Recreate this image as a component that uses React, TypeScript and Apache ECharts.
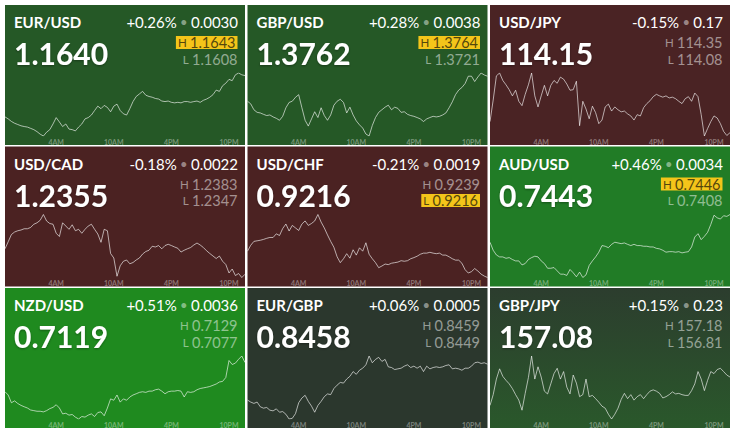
import React, { useEffect, useRef } from "react";
import * as echarts from "echarts";

// ---------- data ----------
const pairs = ["EUR/USD", "GBP/USD", "USD/JPY", "USD/CAD", "USD/CHF", "AUD/USD", "NZD/USD", "EUR/GBP", "GBP/JPY"];
const lastPrices = ["1.1640", "1.3762", "114.15", "1.2355", "0.9216", "0.7443", "0.7119", "0.8458", "157.08"];
const changePct = ["+0.26%", "+0.28%", "-0.15%", "-0.18%", "-0.21%", "+0.46%", "+0.51%", "+0.06%", "+0.15%"];
const changeAbs = ["0.0030", "0.0038", "0.17", "0.0022", "0.0019", "0.0034", "0.0036", "0.0005", "0.23"];
const highs = ["1.1643", "1.3764", "114.35", "1.2383", "0.9239", "0.7446", "0.7129", "0.8459", "157.18"];
const lows = ["1.1608", "1.3721", "114.08", "1.2347", "0.9216", "0.7408", "0.7077", "0.8449", "156.81"];
const highlighted = ["H", "H", "", "", "L", "H", "", "", ""];

const tickTimes = ["04:00", "10:00", "16:00", "22:00"];
const tickLabels = ["4AM", "10AM", "4PM", "10PM"];

const eurUsd = [1.16189,1.16178,1.16164,1.16154,1.16147,1.16140,1.16136,1.16133,1.16126,1.16119,
1.16108,1.16094,1.16084,1.16105,1.16119,1.16150,1.16185,1.16161,1.16136,1.16150,
1.16122,1.16119,1.16112,1.16133,1.16150,1.16178,1.16185,1.16199,1.16224,1.16248,
1.16234,1.16252,1.16241,1.16217,1.16248,1.16259,1.16224,1.16206,1.16199,1.16234,
1.16273,1.16301,1.16315,1.16329,1.16308,1.16301,1.16297,1.16290,1.16287,1.16276,
1.16273,1.16276,1.16269,1.16266,1.16269,1.16266,1.16273,1.16273,1.16269,1.16273,
1.16276,1.16269,1.16280,1.16287,1.16297,1.16311,1.16336,1.16329,1.16360,1.16374,
1.16395,1.16388,1.16420,1.16430,1.16420,1.16416];

const gbpUsd = [1.37455,1.37438,1.37399,1.37382,1.37378,1.37369,1.37361,1.37365,1.37352,1.37343,
1.37330,1.37356,1.37412,1.37447,1.37455,1.37481,1.37498,1.37412,1.37330,1.37292,
1.37339,1.37386,1.37348,1.37412,1.37361,1.37330,1.37365,1.37429,1.37455,1.37468,
1.37447,1.37378,1.37416,1.37365,1.37326,1.37300,1.37279,1.37240,1.37227,1.37296,
1.37348,1.37382,1.37399,1.37416,1.37429,1.37399,1.37416,1.37408,1.37382,1.37386,
1.37369,1.37361,1.37356,1.37348,1.37339,1.37322,1.37339,1.37348,1.37356,1.37352,
1.37356,1.37365,1.37378,1.37412,1.37451,1.37498,1.37528,1.37545,1.37571,1.37619,
1.37619,1.37584,1.37614,1.37640,1.37627,1.37619];

const usdJpy = [114.150,114.234,114.328,114.339,114.310,114.293,114.274,114.250,114.272,114.229,
114.212,114.256,114.293,114.339,114.250,114.207,114.250,114.291,114.250,114.291,
114.310,114.299,114.323,114.315,114.296,114.272,114.274,114.307,114.134,114.229,
114.199,114.161,114.210,114.185,114.142,114.156,114.207,114.218,114.191,114.207,
114.196,114.188,114.191,114.180,114.172,114.156,114.177,114.172,114.204,114.220,
114.231,114.247,114.256,114.250,114.245,114.250,114.242,114.245,114.239,114.229,
114.220,114.239,114.247,114.229,114.261,114.247,114.177,114.094,114.123,114.150,
114.172,114.164,114.142,114.112,114.096,114.107];

const usdCad = [1.23636,1.23675,1.23715,1.23729,1.23736,1.23740,1.23747,1.23747,1.23754,1.23772,
1.23780,1.23794,1.23826,1.23790,1.23776,1.23772,1.23722,1.23704,1.23780,1.23762,
1.23744,1.23769,1.23736,1.23744,1.23722,1.23744,1.23762,1.23772,1.23744,1.23718,
1.23672,1.23744,1.23736,1.23610,1.23585,1.23484,1.23542,1.23567,1.23574,1.23553,
1.23560,1.23574,1.23585,1.23607,1.23621,1.23628,1.23650,1.23646,1.23654,1.23636,
1.23654,1.23661,1.23654,1.23646,1.23639,1.23618,1.23628,1.23636,1.23643,1.23657,
1.23668,1.23657,1.23643,1.23625,1.23610,1.23596,1.23582,1.23596,1.23567,1.23549,
1.23502,1.23524,1.23488,1.23499,1.23477,1.23495];

const usdChf = [0.92254,0.92275,0.92289,0.92291,0.92293,0.92296,0.92300,0.92303,0.92303,0.92316,
0.92310,0.92335,0.92351,0.92326,0.92346,0.92337,0.92328,0.92351,0.92362,0.92346,
0.92353,0.92362,0.92385,0.92358,0.92337,0.92312,0.92289,0.92268,0.92234,0.92213,
0.92227,0.92245,0.92229,0.92259,0.92240,0.92266,0.92254,0.92284,0.92243,0.92227,
0.92213,0.92195,0.92201,0.92208,0.92206,0.92211,0.92213,0.92215,0.92220,0.92218,
0.92220,0.92227,0.92231,0.92236,0.92243,0.92247,0.92247,0.92250,0.92247,0.92245,
0.92247,0.92240,0.92240,0.92234,0.92227,0.92222,0.92222,0.92211,0.92188,0.92176,
0.92181,0.92192,0.92183,0.92172,0.92165,0.92160];

const audUsd = [0.74297,0.74251,0.74224,0.74213,0.74213,0.74205,0.74209,0.74198,0.74190,0.74190,
0.74167,0.74175,0.74198,0.74209,0.74217,0.74213,0.74190,0.74175,0.74148,0.74148,
0.74152,0.74133,0.74114,0.74114,0.74107,0.74141,0.74122,0.74099,0.74126,0.74095,
0.74110,0.74164,0.74190,0.74213,0.74240,0.74278,0.74274,0.74266,0.74285,0.74297,
0.74293,0.74289,0.74293,0.74285,0.74278,0.74285,0.74278,0.74278,0.74274,0.74274,
0.74270,0.74270,0.74262,0.74259,0.74251,0.74240,0.74243,0.74243,0.74240,0.74243,
0.74236,0.74240,0.74243,0.74270,0.74327,0.74346,0.74312,0.74331,0.74354,0.74399,
0.74452,0.74437,0.74430,0.74449,0.74445,0.74456];

const nzdUsd = [0.71004,0.70978,0.70916,0.70931,0.70910,0.70895,0.70884,0.70874,0.70858,0.70853,
0.70848,0.70848,0.70843,0.70853,0.70869,0.70879,0.70900,0.70874,0.70827,0.70832,
0.70817,0.70822,0.70801,0.70786,0.70806,0.70801,0.70817,0.70827,0.70806,0.70838,
0.70843,0.70812,0.70874,0.70947,0.70936,0.70978,0.70921,0.70947,0.70936,0.70962,
0.70978,0.70988,0.70999,0.71004,0.70999,0.71009,0.71009,0.71020,0.71025,0.71009,
0.70988,0.71004,0.71009,0.71009,0.71014,0.71009,0.70962,0.71004,0.70999,0.71004,
0.71020,0.71030,0.71035,0.71040,0.71046,0.71056,0.71066,0.71082,0.71087,0.71118,
0.71254,0.71222,0.71233,0.71264,0.71290,0.71238];

const eurGbp = [0.84522,0.84519,0.84517,0.84519,0.84512,0.84510,0.84511,0.84507,0.84506,0.84509,
0.84504,0.84505,0.84501,0.84494,0.84495,0.84502,0.84518,0.84525,0.84529,0.84520,
0.84513,0.84504,0.84514,0.84520,0.84527,0.84531,0.84530,0.84539,0.84544,0.84548,
0.84547,0.84553,0.84557,0.84564,0.84560,0.84566,0.84569,0.84574,0.84587,0.84577,
0.84582,0.84585,0.84579,0.84582,0.84571,0.84570,0.84567,0.84568,0.84569,0.84572,
0.84574,0.84570,0.84572,0.84569,0.84572,0.84564,0.84572,0.84568,0.84570,0.84571,
0.84570,0.84571,0.84573,0.84574,0.84568,0.84569,0.84568,0.84566,0.84569,0.84569,
0.84572,0.84577,0.84578,0.84576,0.84577,0.84575];

const gbpJpy = [156.899,156.958,157.043,157.099,157.058,157.036,157.017,156.991,156.958,156.928,
156.873,156.965,157.051,157.169,157.043,157.110,157.054,156.977,156.962,157.017,
157.073,157.102,157.043,157.084,156.999,156.962,157.065,157.021,156.947,156.958,
157.043,156.947,156.954,156.936,156.917,156.895,156.884,156.851,156.825,156.851,
156.884,156.932,156.965,156.936,156.958,156.928,156.947,156.958,156.936,156.958,
156.977,156.984,156.977,156.965,156.940,156.947,156.958,156.973,156.962,156.965,
156.958,156.954,156.954,156.980,157.017,157.084,157.043,156.980,157.036,157.084,
157.073,157.095,157.102,157.084,157.065,157.054];

const seriesData = [eurUsd, gbpUsd, usdJpy, usdCad, usdChf, audUsd, nzdUsd, eurGbp, gbpJpy];

// time categories: 20-minute steps starting 22:40 of the previous day
const times: string[] = [];
for (let i = 0; i < eurUsd.length; i++) {
  const m = (22 * 60 + 40 + 20 * i) % 1440;
  const hh = String(Math.floor(m / 60)).padStart(2, "0");
  const mm = String(m % 60).padStart(2, "0");
  times.push(hh + ":" + mm);
}

// ---------- layout / style ----------
const colLefts = [5, 247.5, 490];
const rowTops = [5, 146.5, 288];
const TILE_W = 240;
const TILE_H = 140;
const FONT = "Lato, 'Open Sans', sans-serif";

const tileFills: any[] = [
  "#255826", "#255826", "#4a2324",
  "#4b2222", "#4b2222", "#217c26",
  "#1f8a1f", "#2b372d",
  new echarts.graphic.LinearGradient(0, 0, 0, 1, [
    { offset: 0, color: "#2c3d2e" },
    { offset: 1, color: "#2a582b" },
  ]),
];

export default function App() {
  const ref = useRef<HTMLDivElement>(null);

  useEffect(() => {
    if (!ref.current) return;
    const chart = echarts.init(ref.current, undefined, { renderer: "svg" });

    const grids: any[] = [];
    const xAxes: any[] = [];
    const yAxes: any[] = [];
    const series: any[] = [];
    const graphics: any[] = [];

    pairs.forEach((pair, k) => {
      const x0 = colLefts[k % 3];
      const y0 = rowTops[Math.floor(k / 3)];

      grids.push({ left: x0, top: y0 + 68, width: TILE_W, height: 63, containLabel: false });
      xAxes.push({
        type: "category",
        gridIndex: k,
        data: times,
        boundaryGap: false,
        axisLine: { show: false },
        axisTick: { show: false },
        splitLine: { show: false },
        axisLabel: {
          interval: (_i: number, v: string) => tickTimes.indexOf(v) >= 0,
          formatter: (v: string) => tickLabels[tickTimes.indexOf(v)] || "",
          color: "rgba(255,255,255,0.38)",
          fontSize: 7,
          fontWeight: "bold",
          fontFamily: FONT,
          margin: 2,
        },
      });
      yAxes.push({ type: "value", gridIndex: k, show: false, scale: true, min: "dataMin", max: "dataMax" });
      series.push({
        type: "line",
        xAxisIndex: k,
        yAxisIndex: k,
        data: seriesData[k],
        symbol: "none",
        showSymbol: false,
        silent: true,
        lineStyle: { width: 1, color: "rgba(255,255,255,0.62)" },
        z: 3,
      });

      graphics.push({
        type: "rect",
        z: 0,
        shape: { x: x0, y: y0, width: TILE_W, height: TILE_H },
        style: { fill: tileFills[k] },
        silent: true,
      });
      graphics.push({
        type: "text",
        z: 10,
        x: x0 + 9,
        y: y0 + 17,
        style: {
          text: pair,
          fill: "#ffffff",
          font: `bold 15px ${FONT}`,
          align: "left",
          verticalAlign: "middle",
          textAlign: "left",
          textVerticalAlign: "middle",
        },
      });
      graphics.push({
        type: "text",
        z: 10,
        x: x0 + 233,
        y: y0 + 17,
        style: {
          text: `{a|${changePct[k]}} {b|•} {a|${changeAbs[k]}}`,
          align: "right",
          verticalAlign: "middle",
          textAlign: "right",
          textVerticalAlign: "middle",
          rich: {
            a: { fill: "#ffffff", fontSize: 15, fontFamily: FONT },
            b: { fill: "rgba(255,255,255,0.45)", fontSize: 13, fontFamily: FONT },
          },
        },
      });
      graphics.push({
        type: "text",
        z: 10,
        x: x0 + 9,
        y: y0 + 48,
        style: {
          text: lastPrices[k],
          fill: "#ffffff",
          font: `bold 30px ${FONT}`,
          align: "left",
          verticalAlign: "middle",
          textAlign: "left",
          textVerticalAlign: "middle",
          textShadowColor: "rgba(0,0,0,0.35)",
          textShadowBlur: 2,
          textShadowOffsetY: 1,
        },
      });
      const rows = [
        { letter: "H", value: highs[k], dy: 37.5 },
        { letter: "L", value: lows[k], dy: 54 },
      ];
      rows.forEach((r) => {
        const hi = highlighted[k] === r.letter;
        const col = hi ? "#54470c" : "rgba(255,255,255,0.5)";
        graphics.push({
          type: "text",
          z: 10,
          x: x0 + 232.5,
          y: y0 + r.dy,
          style: {
            text: `{l|${r.letter}} {v|${r.value}}`,
            align: "right",
            verticalAlign: "middle",
            textAlign: "right",
            textVerticalAlign: "middle",
            backgroundColor: hi ? "#f4c51a" : "transparent",
            padding: hi ? [0, 2, 0, 2] : 0,
            rich: {
              l: { fill: col, fontSize: 11.5, fontFamily: FONT, lineHeight: 13 },
              v: { fill: col, fontSize: 14.5, fontFamily: FONT, lineHeight: 13 },
            },
          },
        });
      });
    });

    chart.setOption({
      animation: false,
      backgroundColor: "#ffffff",
      textStyle: { fontFamily: FONT },
      grid: grids,
      xAxis: xAxes,
      yAxis: yAxes,
      series,
      graphic: { elements: graphics },
    });

    return () => chart.dispose();
  }, []);

  return (
    <div
      ref={ref}
      style={{ position: "absolute", left: 0, top: 0, width: 735, height: 438, background: "#fff" }}
    />
  );
}
